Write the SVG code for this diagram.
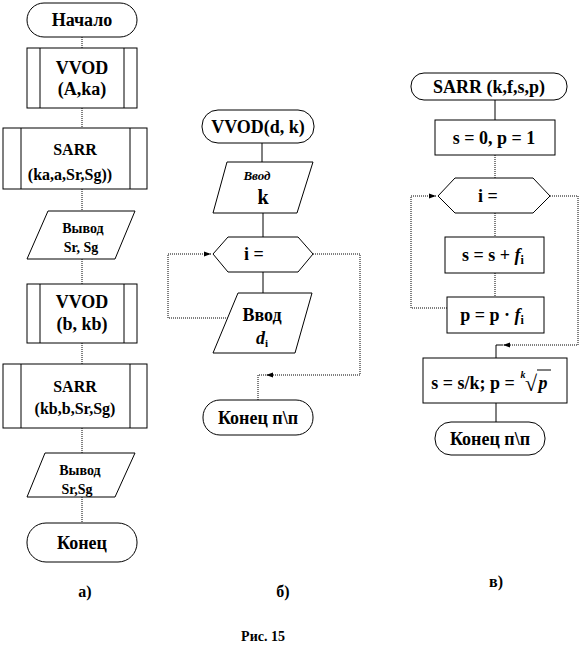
<svg xmlns="http://www.w3.org/2000/svg" width="580" height="656" viewBox="0 0 580 656">
<style>
.s{fill:#fff;stroke:#000;stroke-width:1}
.c{fill:none;stroke:#000;stroke-width:1}
.d{fill:none;stroke:#000;stroke-width:1;stroke-dasharray:1 1}
text{font-family:'Liberation Serif','DejaVu Serif',serif;font-weight:bold;fill:#000;text-anchor:middle}
.t18{font-size:18px}
.t16{font-size:16px}
.t14{font-size:14px}
</style>
<defs>
<marker id="ar" markerWidth="8" markerHeight="6" refX="7" refY="3" orient="auto" markerUnits="userSpaceOnUse">
<path d="M0,0.5 L7,3 L0,5.5 Z" fill="#000"/>
</marker>
</defs>
<rect width="580" height="656" fill="#fff"/>
<g id="connectors">
<path class="d" d="M82,37 V48"/>
<path class="d" d="M82,108 V128"/>
<path class="d" d="M82,189 V211"/>
<path class="d" d="M82,259 V284"/>
<path class="d" d="M82,343 V364"/>
<path class="d" d="M82,428 V453"/>
<path class="d" d="M82,497 V523"/>
<path class="c" d="M262,143 V162"/>
<path class="c" d="M263,213 V237"/>
<path class="c" d="M263,272 V293"/>
<path class="d" d="M228,318 H168 V254 H211" marker-end="url(#ar)"/>
<path class="d" d="M313,254 H360 V375 H266" marker-end="url(#ar)"/>
<path class="d" d="M266,375 H258 V400"/>
<path class="c" d="M495,100 V120"/>
<path class="d" d="M495,155 V178"/>
<path class="d" d="M495,213 V237"/>
<path class="d" d="M495,273 V297"/>
<path class="d" d="M447,308 H411 V196 H436" marker-end="url(#ar)"/>
<path class="d" d="M550,196 H578 V345 H503" marker-end="url(#ar)"/>
<path class="c" d="M503,345 H496 V358"/>
<path class="c" d="M496,403 V422"/>
</g>
<g font-family="Liberation Serif, serif" font-weight="bold">
<g id="a-start"><rect class="s" x="27" y="3" width="110" height="34" rx="17"/><text class="t18" x="82" y="26">Начало</text></g>
<g id="a-vvod1"><rect class="s" x="27" y="48" width="110" height="60"/><path class="c" d="M40,48 V108 M124,48 V108"/><text class="t18" x="82" y="74">VVOD</text><text class="t18" x="82" y="95">(A,ka)</text></g>
<g id="a-sarr1"><rect class="s" x="3" y="128" width="144" height="61"/><path class="c" d="M21,128 V189 M130,128 V189"/><text class="t16" x="75" y="155">SARR</text><text class="t16" x="70" y="180">(ka,a,Sr,Sg))</text></g>
<g id="a-out1"><polygon class="s" points="48,211 135,211 115,259 27,259"/><text class="t14" x="83" y="233">Вывод</text><text class="t14" x="81" y="252">Sr, Sg</text></g>
<g id="a-vvod2"><rect class="s" x="27" y="284" width="110" height="59"/><path class="c" d="M40,284 V343 M124,284 V343"/><text class="t18" x="82" y="308">VVOD</text><text class="t18" x="82" y="330">(b, kb)</text></g>
<g id="a-sarr2"><rect class="s" x="3" y="364" width="144" height="64"/><path class="c" d="M21,364 V428 M130,364 V428"/><text class="t16" x="75" y="392">SARR</text><text class="t16" x="75" y="414">(kb,b,Sr,Sg)</text></g>
<g id="a-out2"><polygon class="s" points="45,453 135,453 115,497 27,497"/><text class="t14" x="80" y="475">Вывод</text><text class="t14" x="77" y="494">Sr,Sg</text></g>
<g id="a-end"><rect class="s" x="27" y="523" width="110" height="39" rx="19"/><text class="t18" x="82" y="549">Конец</text></g>
<text class="t16" x="85" y="597">а)</text>
<g id="b-start"><rect class="s" x="202" y="110" width="112" height="33" rx="16"/><text class="t18" x="258" y="133">VVOD(d, k)</text></g>
<g id="b-in-k"><polygon class="s" points="227,162 313,162 297,213 213,213"/><text x="257" y="180" style="font-size:13px;font-style:italic">Ввод</text><text x="263" y="204" style="font-size:20px">k</text></g>
<g id="b-loop"><polygon class="s" points="213,254 228,237 298,237 313,254 298,272 228,272"/><text class="t18" x="254" y="260">i =</text></g>
<g id="b-in-d"><polygon class="s" points="238,293 312,293 295,353 213,353"/><text class="t18" x="262" y="321">Ввод</text><text x="262" y="344" style="font-size:18px;font-style:italic">d<tspan style="font-size:11px;font-style:normal" dy="3">i</tspan></text></g>
<g id="b-end"><rect class="s" x="203" y="400" width="110" height="35" rx="17"/><text class="t18" x="258" y="424">Конец п\п</text></g>
<text class="t16" x="283" y="597">б)</text>
<g id="v-start"><rect class="s" x="411" y="73" width="156" height="27" rx="13"/><text class="t18" x="489" y="93">SARR (k,f,s,p)</text></g>
<g id="v-init"><rect class="s" x="435" y="120" width="120" height="35"/><text class="t18" x="494" y="144">s = 0, p = 1</text></g>
<g id="v-loop"><polygon class="s" points="438,196 455,178 533,178 550,196 533,213 455,213"/><text class="t18" x="488" y="202">i =</text></g>
<g id="v-sum"><rect class="s" x="445" y="237" width="99" height="36"/><text class="t18" x="493" y="261">s = s + <tspan style="font-style:italic">f</tspan><tspan style="font-size:12px" dy="3">i</tspan></text></g>
<g id="v-prod"><rect class="s" x="447" y="297" width="97" height="36"/><text class="t18" x="492" y="321">p = p · <tspan style="font-style:italic">f</tspan><tspan style="font-size:12px" dy="3">i</tspan></text></g>
<g id="v-final"><rect class="s" x="423" y="358" width="144" height="45"/><text class="t18" x="473" y="389">s = s/k; p =</text><text x="523" y="378" style="font-size:10px;font-style:italic">k</text><text x="531" y="391" style="font-size:22px;font-weight:normal">√</text><path class="c" d="M537,370 H551"/><text x="543" y="389" style="font-size:18px;font-style:italic">p</text></g>
<g id="v-end"><rect class="s" x="435" y="422" width="110" height="33" rx="16"/><text class="t18" x="490" y="445">Конец п\п</text></g>
<text class="t16" x="496" y="587">в)</text>
<text class="t14" x="263" y="641">Рис. 15</text>
</g>
</svg>
